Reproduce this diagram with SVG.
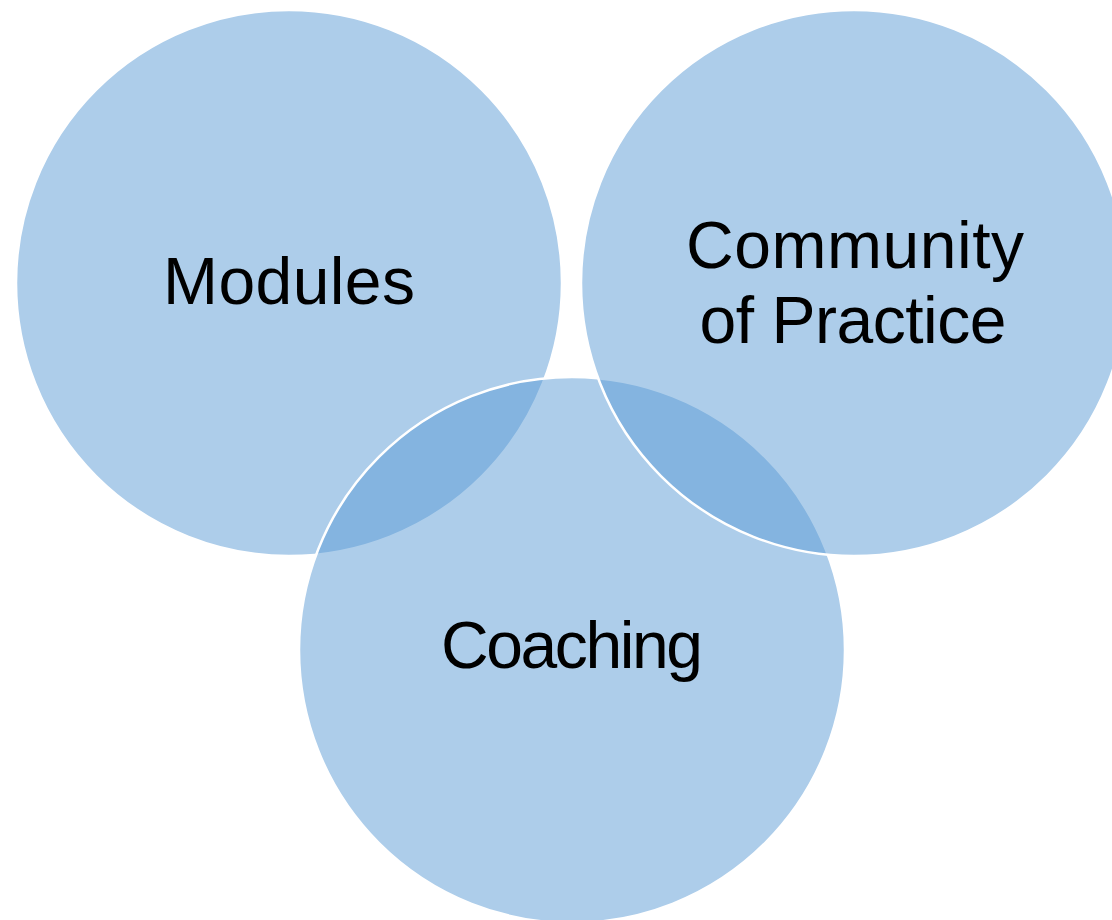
<svg xmlns="http://www.w3.org/2000/svg" width="1112" height="920" viewBox="0 0 1112 920">
  <style>
    .c { fill: #5B9BD5; fill-opacity: 0.5; stroke: #FFFFFF; stroke-width: 2.5; }
    .t { font-family: "Liberation Sans", Arial, sans-serif; font-size: 66px; fill: #000000; text-anchor: middle; }
  </style>
  <rect width="1112" height="920" fill="#FFFFFF"/>
  <g id="node-modules">
    <circle class="c" cx="289" cy="283" r="273"/>
    <text class="t" x="289" y="304" textLength="252">Modules</text>
  </g>
  <g id="node-coaching">
    <circle class="c" cx="572" cy="650" r="273"/>
    <text class="t" x="572" y="668" textLength="262">Coaching</text>
  </g>
  <g id="node-community">
    <circle class="c" cx="854" cy="283" r="273"/>
    <text class="t" x="855" y="268" textLength="338">Community</text>
    <text class="t" x="853" y="343" textLength="307">of Practice</text>
  </g>
  <g id="connectors"/>
</svg>
